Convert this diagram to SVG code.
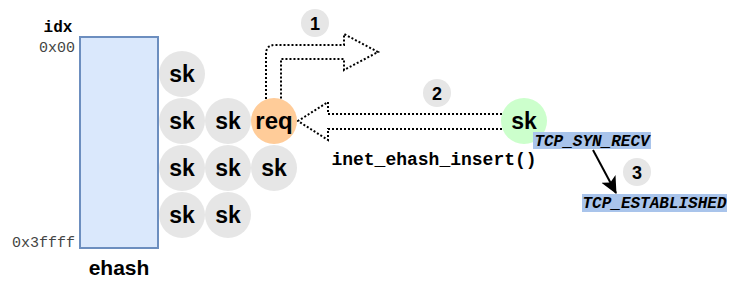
<svg xmlns="http://www.w3.org/2000/svg" width="742" height="290" viewBox="0 0 742 290">
<style>
.sk{fill:#e6e6e6}
.t{font-family:"Liberation Sans",Arial,sans-serif;font-weight:bold;text-anchor:middle;fill:#000}
.m{font-family:"Liberation Mono","Courier New",monospace}
.dot{fill:none;stroke:#000;stroke-width:2;stroke-dasharray:2 2}
.lbl{fill:#a9c4eb}
</style>
<defs>
<marker id="ah" markerWidth="18" markerHeight="18" refX="16" refY="9" orient="auto" markerUnits="userSpaceOnUse" viewBox="0 0 18 18">
<path d="M0,1 L17,9 L0,17 L4,9 Z" fill="#000"/>
</marker>
</defs>
<rect width="742" height="290" fill="#fff"/>
<g id="connectors">
<path class="dot" d="M266,99 L266,54 Q266,45 275,45 L344,45 L344,34 L378,52 L344,70 L344,59 L281,59 L281,99"/>
<path class="dot" d="M502,114 L328,114 L328,102 L298,121 L328,140 L328,129 L502,129"/>
<line x1="593" y1="150" x2="616" y2="193" stroke="#000" stroke-width="2" marker-end="url(#ah)"/>
</g>
<g id="ehash">
<rect x="80" y="37" width="78" height="211" fill="#dae8fc" stroke="#6c8ebf" stroke-width="2"/>
<text class="m" x="58" y="32" font-size="16" font-weight="bold" text-anchor="middle">idx</text>
<text class="m" x="75" y="52" font-size="15" text-anchor="end" fill="#444">0x00</text>
<text class="m" x="75" y="247" font-size="15" text-anchor="end" fill="#444">0x3ffff</text>
<text class="t" x="119" y="275" font-size="21">ehash</text>
</g>
<g id="sk1"><circle class="sk" cx="182" cy="74" r="23"/><text class="t" x="182" y="82" font-size="23">sk</text></g>
<g id="sk2"><circle class="sk" cx="182" cy="121" r="23"/><text class="t" x="182" y="129" font-size="23">sk</text></g>
<g id="sk3"><circle class="sk" cx="228" cy="121" r="23"/><text class="t" x="228" y="129" font-size="23">sk</text></g>
<g id="req"><circle cx="274" cy="121" r="23" fill="#ffcc99"/><text class="t" x="274" y="129" font-size="24">req</text></g>
<g id="sk4"><circle class="sk" cx="182" cy="168" r="23"/><text class="t" x="182" y="176" font-size="23">sk</text></g>
<g id="sk5"><circle class="sk" cx="228" cy="168" r="23"/><text class="t" x="228" y="176" font-size="23">sk</text></g>
<g id="sk6"><circle class="sk" cx="274" cy="168" r="23"/><text class="t" x="274" y="176" font-size="23">sk</text></g>
<g id="sk7"><circle class="sk" cx="182" cy="215" r="23"/><text class="t" x="182" y="223" font-size="23">sk</text></g>
<g id="sk8"><circle class="sk" cx="228" cy="215" r="23"/><text class="t" x="228" y="223" font-size="23">sk</text></g>
<g id="sknew"><circle cx="524" cy="121" r="23" fill="#ccffcc"/><text class="t" x="524" y="129" font-size="23">sk</text></g>
<g id="badge1"><circle class="sk" cx="315" cy="23" r="14"/><text class="t" x="315" y="29.5" font-size="18">1</text></g>
<g id="badge2"><circle class="sk" cx="437" cy="93" r="14"/><text class="t" x="437" y="99.5" font-size="18">2</text></g>
<g id="badge3"><circle class="sk" cx="637" cy="172" r="14"/><text class="t" x="637" y="178.5" font-size="18">3</text></g>
<g id="insert"><text class="m" x="434" y="165" font-size="18" font-weight="bold" text-anchor="middle">inet_ehash_insert()</text></g>
<g id="synrecv"><rect class="lbl" x="533" y="132" width="118" height="17"/><text class="m" x="592" y="146" font-size="16" font-weight="bold" font-style="italic" text-anchor="middle">TCP_SYN_RECV</text></g>
<g id="established"><rect class="lbl" x="582" y="194" width="145" height="18"/><text class="m" x="654.5" y="208" font-size="16" font-weight="bold" font-style="italic" text-anchor="middle">TCP_ESTABLISHED</text></g>
</svg>
